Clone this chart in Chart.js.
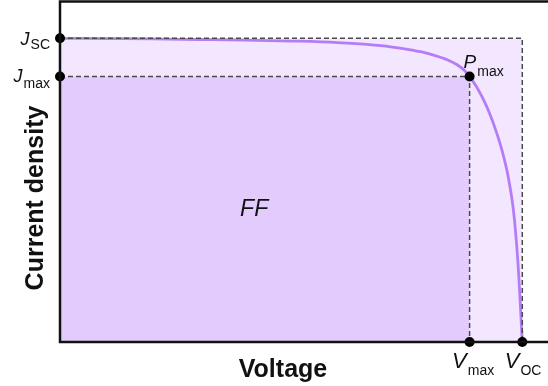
<!DOCTYPE html>
<html>
<head>
<meta charset="utf-8">
<script src="https://cdn.jsdelivr.net/npm/chart.js@4"></script>
<style>
  html, body { margin: 0; padding: 0; background: #ffffff; }
  canvas { display: block; }
</style>
</head>
<body>
<canvas id="jv" width="548" height="386"></canvas>
<script>
// J–V curve of a solar cell (normalised units: Voc = 1, Jsc = 1)
const voltage = [0, 0.1, 0.2, 0.3, 0.4, 0.5, 0.6, 0.7, 0.75, 0.78, 0.81, 0.84, 0.86, 0.875, 0.886, 0.9, 0.915, 0.93, 0.944, 0.957, 0.969, 0.98, 0.987, 0.992, 0.996, 1.0];
const current = [1.0, 0.999, 0.998, 0.996, 0.994, 0.991, 0.986, 0.975, 0.964, 0.956, 0.944, 0.928, 0.912, 0.894, 0.874, 0.843, 0.801, 0.750, 0.691, 0.626, 0.548, 0.444, 0.335, 0.227, 0.116, 0];

// characteristic points
const Jsc = 1.0;
const Voc = 1.0;
const Jmax = 0.874;
const Vmax = 0.886;

// axis extents
const xMax = 1.0556;
const yMax = 1.1195;

const FONT = '"Liberation Sans", Arial, Helvetica, sans-serif';

const curvePoints = voltage.map((v, i) => ({ x: v, y: current[i] }));
const outerBox = [{ x: 0, y: Jsc }, { x: Voc, y: Jsc }, { x: Voc, y: 0 }];
const innerBox = [{ x: 0, y: Jmax }, { x: Vmax, y: Jmax }, { x: Vmax, y: 0 }];
const markers = [
  { x: 0, y: Jsc }, { x: 0, y: Jmax }, { x: Vmax, y: Jmax },
  { x: Vmax, y: 0 }, { x: Voc, y: 0 }
];

// draws an italic symbol followed by a subscript
function symbolWithSub(ctx, sym, sub, x, y, symSize, subSize, subDrop, anchor) {
  ctx.font = 'italic ' + symSize + 'px ' + FONT;
  const w1 = ctx.measureText(sym).width;
  ctx.font = subSize + 'px ' + FONT;
  const w2 = ctx.measureText(sub).width;
  let left = x;
  if (anchor === 'right') left = x - (w1 + w2 + 1);
  ctx.textBaseline = 'alphabetic';
  ctx.textAlign = 'left';
  ctx.font = 'italic ' + symSize + 'px ' + FONT;
  ctx.fillText(sym, left, y);
  ctx.font = subSize + 'px ' + FONT;
  ctx.fillText(sub, left + w1 + 1, y + subDrop);
}

const frameAndLabels = {
  id: 'frameAndLabels',
  afterDatasetsDraw(chart) {
    const { ctx, chartArea: a, scales: { x, y } } = chart;
    ctx.save();

    // axes frame: left, bottom, top
    ctx.strokeStyle = '#111111';
    ctx.lineWidth = 2.5;
    ctx.beginPath();
    ctx.moveTo(chart.width, a.top - 0.5);
    ctx.lineTo(a.left, a.top - 0.5);
    ctx.lineTo(a.left, a.bottom);
    ctx.lineTo(chart.width, a.bottom);
    ctx.stroke();

    ctx.fillStyle = '#111111';

    // axis titles
    ctx.font = 'bold 25px ' + FONT;
    ctx.textAlign = 'center';
    ctx.textBaseline = 'alphabetic';
    ctx.fillText('Voltage', 283, 377);

    ctx.save();
    ctx.translate(43, 198);
    ctx.rotate(-Math.PI / 2);
    ctx.fillText('Current density', 0, 0);
    ctx.restore();

    // point labels
    const x0 = x.getPixelForValue(0);
    const ySc = y.getPixelForValue(Jsc);
    const yMx = y.getPixelForValue(Jmax);
    const xMx = x.getPixelForValue(Vmax);
    const xOc = x.getPixelForValue(Voc);
    const y0 = y.getPixelForValue(0);

    symbolWithSub(ctx, 'J', 'SC', x0 - 10, ySc + 7, 18, 14, 4, 'right');
    symbolWithSub(ctx, 'J', 'max', x0 - 10, yMx + 5, 18, 14, 6, 'right');
    symbolWithSub(ctx, 'P', 'max', xMx - 6, yMx - 8.5, 19, 14, 8, 'left');
    symbolWithSub(ctx, 'V', 'max', xMx - 17.5, y0 + 25.5, 22, 14, 7.5, 'left');
    symbolWithSub(ctx, 'V', 'OC', xOc - 17.5, y0 + 25.5, 22, 14, 7.5, 'left');

    // fill factor label
    ctx.font = 'italic 23px ' + FONT;
    ctx.textAlign = 'center';
    ctx.fillText('FF', x.getPixelForValue(0.42), y.getPixelForValue(0.44) + 8);

    ctx.restore();
  }
};

new Chart(document.getElementById('jv'), {
  type: 'scatter',
  data: {
    datasets: [
      {
        label: 'markers',
        data: markers,
        showLine: false,
        pointRadius: 5,
        pointHoverRadius: 5,
        pointBackgroundColor: '#000000',
        pointBorderColor: '#000000',
        pointBorderWidth: 0,
        clip: false,
        order: 1
      },
      {
        label: 'Jsc × Voc',
        data: outerBox,
        showLine: true,
        borderColor: '#4a4a4a',
        borderWidth: 1.5,
        borderDash: [5, 3],
        pointRadius: 0,
        fill: false,
        clip: false,
        order: 2
      },
      {
        label: 'Jmax × Vmax',
        data: innerBox,
        showLine: true,
        borderColor: '#4a4a4a',
        borderWidth: 1.5,
        borderDash: [5, 3],
        pointRadius: 0,
        fill: false,
        clip: false,
        order: 2
      },
      {
        label: 'J–V',
        data: curvePoints,
        showLine: true,
        borderColor: '#b57cf7',
        borderWidth: 2.8,
        pointRadius: 0,
        cubicInterpolationMode: 'monotone',
        fill: false,
        order: 3
      },
      {
        label: 'Pmax area',
        data: innerBox,
        showLine: true,
        borderWidth: 0,
        borderColor: 'rgba(0,0,0,0)',
        backgroundColor: '#e3cbfd',
        pointRadius: 0,
        fill: 'origin',
        order: 4
      },
      {
        label: 'ideal area',
        data: outerBox,
        showLine: true,
        borderWidth: 0,
        borderColor: 'rgba(0,0,0,0)',
        backgroundColor: '#f2e7fe',
        pointRadius: 0,
        fill: 'origin',
        order: 5
      }
    ]
  },
  options: {
    responsive: false,
    devicePixelRatio: 1,
    animation: false,
    layout: { autoPadding: false, padding: { left: 60, top: 2, right: 0, bottom: 44 } },
    plugins: {
      legend: { display: false },
      tooltip: { enabled: false }
    },
    scales: {
      x: { type: 'linear', min: 0, max: xMax, display: false },
      y: { type: 'linear', min: 0, max: yMax, display: false }
    }
  },
  plugins: [frameAndLabels]
});
</script>
</body>
</html>
